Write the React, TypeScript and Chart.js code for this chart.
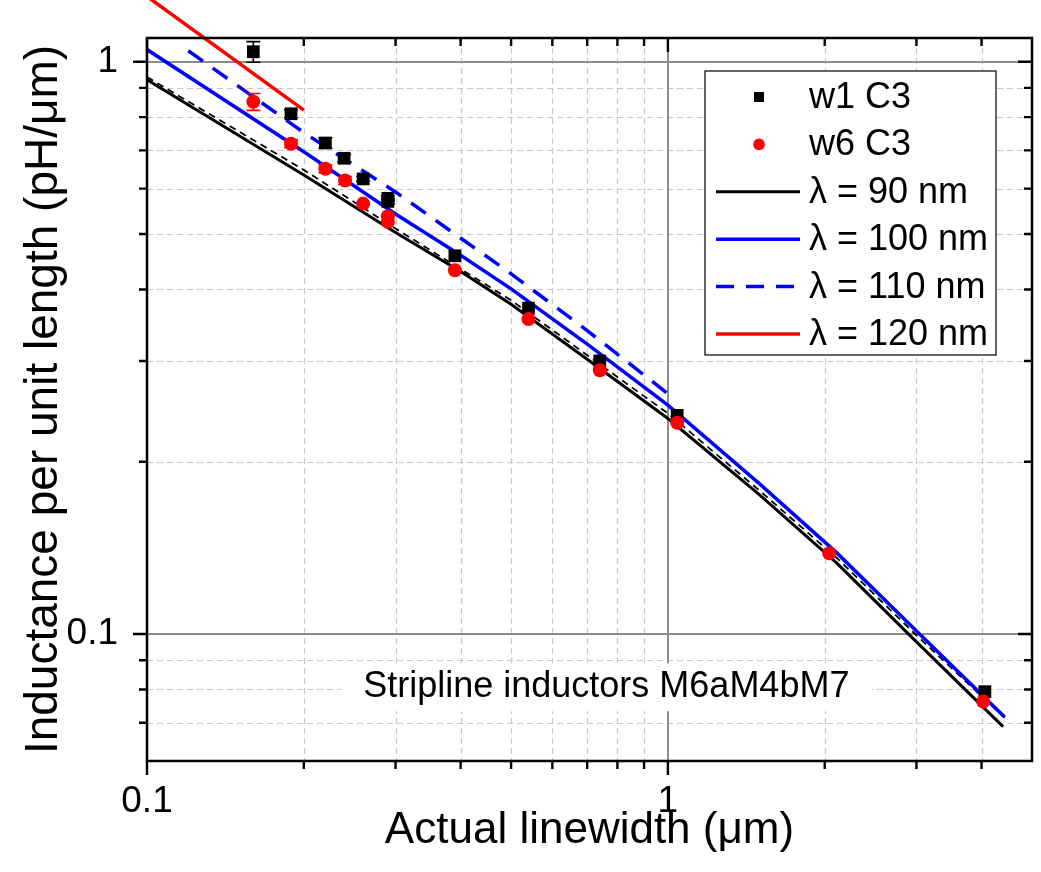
import React, { useEffect, useRef } from 'react';
import { Chart, registerables } from 'chart.js';

Chart.register(...registerables);

const FONT = '"Liberation Sans", Arial, Helvetica, sans-serif';

// ---------- data ----------
const w1X = [0.16, 0.189, 0.22, 0.239, 0.26, 0.29, 0.29, 0.39, 0.54, 0.74, 1.042, 4.06];
const w1Y = [1.041, 0.811, 0.721, 0.678, 0.624, 0.577, 0.570, 0.458, 0.371, 0.300, 0.241, 0.0793];
const w1Err = [0.043, 0.013, 0.015, 0.01, 0.006, 0.006, 0.006, 0, 0, 0, 0, 0];

const w6X = [0.16, 0.189, 0.22, 0.24, 0.26, 0.29, 0.29, 0.39, 0.54, 0.74, 1.042, 2.04, 4.03];
const w6Y = [0.851, 0.719, 0.650, 0.620, 0.565, 0.537, 0.525, 0.432, 0.355, 0.289, 0.234, 0.1384, 0.0762];
const w6Err = [0.029, 0.011, 0.01, 0.01, 0, 0, 0, 0, 0, 0, 0, 0, 0];

const l90X = [0.1, 0.2, 0.3, 0.4, 0.5, 0.7, 1.0, 1.5, 2.11, 3.0, 4.4];
const l90Y = [0.930, 0.634, 0.503, 0.430, 0.377, 0.302, 0.238, 0.175, 0.133, 0.0969, 0.0689];

const l100X = [0.1, 0.2, 0.3, 0.4, 0.5, 0.7, 1.0, 1.5, 2.11, 3.0, 4.43];
const l100Y = [1.05, 0.696, 0.542, 0.459, 0.401, 0.321, 0.2511, 0.183, 0.1386, 0.1012, 0.0716];

const l110X = [0.12, 0.2, 0.3, 0.5, 0.7, 1.0];
const l110Y = [1.045, 0.752, 0.592, 0.426, 0.339, 0.263];

const l120X = [0.1, 0.2];
const l120Y = [1.30, 0.823];

const lDashX = [0.1, 0.2, 0.3, 0.5, 0.7, 1.0, 1.5, 2.11, 3.0, 4.43];
const lDashY = [0.94, 0.647, 0.511, 0.383, 0.307, 0.243, 0.178, 0.1358, 0.0995, 0.0714];

const xMajor = [0.1, 1];
const xMinor = [0.2, 0.3, 0.4, 0.5, 0.6, 0.7, 0.8, 0.9, 2, 3, 4];
const yMajor = [0.1, 1];
const yMinor = [0.07, 0.08, 0.09, 0.2, 0.3, 0.4, 0.5, 0.6, 0.7, 0.8, 0.9];

const xTitle = 'Actual linewidth (\u03bcm)';
const yTitle = 'Inductance per unit length (pH/\u03bcm)';
const note = 'Stripline inductors M6aM4bM7';

const pts = (xs: number[], ys: number[]) => xs.map((x, i) => ({ x, y: ys[i] }));

// ---------- plugin: grid, frame, ticks, error bars, annotation, legend ----------
const decorPlugin = {
  id: 'decor',
  beforeDatasetsDraw(chart: any) {
    const { ctx, chartArea: a, scales } = chart;
    const xs = scales.x, ys = scales.y;
    ctx.save();
    ctx.beginPath();
    ctx.rect(a.left, a.top, a.right - a.left, a.bottom - a.top);
    ctx.clip();
    // minor grid
    ctx.strokeStyle = '#c8c8c8';
    ctx.lineWidth = 1.2;
    ctx.setLineDash([6, 4]);
    ctx.beginPath();
    xMinor.forEach((v) => {
      const p = Math.round(xs.getPixelForValue(v)) + 0.5;
      ctx.moveTo(p, a.top);
      ctx.lineTo(p, a.bottom);
    });
    yMinor.forEach((v) => {
      const p = Math.round(ys.getPixelForValue(v)) + 0.5;
      ctx.moveTo(a.left, p);
      ctx.lineTo(a.right, p);
    });
    ctx.stroke();
    // major grid
    ctx.setLineDash([]);
    ctx.strokeStyle = '#8c8c8c';
    ctx.lineWidth = 2;
    ctx.beginPath();
    xMajor.forEach((v) => {
      const p = Math.round(xs.getPixelForValue(v));
      ctx.moveTo(p, a.top);
      ctx.lineTo(p, a.bottom);
    });
    yMajor.forEach((v) => {
      const p = Math.round(ys.getPixelForValue(v));
      ctx.moveTo(a.left, p);
      ctx.lineTo(a.right, p);
    });
    ctx.stroke();

    // annotation with white background
    ctx.font = `36px ${FONT}`;
    const tw = ctx.measureText(note).width;
    const cx = a.left + (a.right - a.left) * 0.519;
    const cy = a.top + (a.bottom - a.top) * 0.898;
    ctx.fillStyle = '#ffffff';
    ctx.fillRect(cx - tw / 2 - 22, cy - 24, tw + 44, 48);
    ctx.fillStyle = '#000000';
    ctx.textAlign = 'center';
    ctx.textBaseline = 'middle';
    ctx.fillText(note, cx, cy);
    ctx.restore();
  },
  afterDatasetsDraw(chart: any) {
    const { ctx, chartArea: a, scales } = chart;
    const xs = scales.x, ys = scales.y;
    ctx.save();
    // error bars
    chart.data.datasets.forEach((ds: any) => {
      if (!ds.errors) return;
      ctx.strokeStyle = ds.borderColor;
      ctx.lineWidth = 1.6;
      ds.data.forEach((pt: any, i: number) => {
        const e = ds.errors[i];
        if (!e) return;
        const px = xs.getPixelForValue(pt.x);
        const pHi = ys.getPixelForValue(pt.y + e);
        const pLo = ys.getPixelForValue(pt.y - e);
        ctx.beginPath();
        ctx.moveTo(px, pHi);
        ctx.lineTo(px, pLo);
        ctx.moveTo(px - 7, pHi);
        ctx.lineTo(px + 7, pHi);
        ctx.moveTo(px - 7, pLo);
        ctx.lineTo(px + 7, pLo);
        ctx.stroke();
      });
    });
    // frame
    ctx.strokeStyle = '#000';
    ctx.lineWidth = 2.5;
    ctx.strokeRect(a.left, a.top, a.right - a.left, a.bottom - a.top);
    // ticks
    ctx.lineWidth = 2.4;
    ctx.beginPath();
    const xt = (vals: number[], len: number) =>
      vals.forEach((v) => {
        const p = xs.getPixelForValue(v);
        ctx.moveTo(p, a.bottom);
        ctx.lineTo(p, a.bottom + len);
        ctx.moveTo(p, a.top);
        ctx.lineTo(p, a.top + len);
      });
    const yt = (vals: number[], len: number) =>
      vals.forEach((v) => {
        const p = ys.getPixelForValue(v);
        ctx.moveTo(a.left, p);
        ctx.lineTo(a.left - len, p);
        ctx.moveTo(a.right, p);
        ctx.lineTo(a.right - len, p);
      });
    xt(xMajor, 14);
    xt(xMinor, 8);
    yt(yMajor, 14);
    yt(yMinor, 8);
    ctx.stroke();
    ctx.restore();
  },
  afterDraw(chart: any) {
    const { ctx, chartArea: a } = chart;
    const left = a.right - 327;
    const top = a.top + 33;
    const w = 291;
    const h = 284;
    ctx.save();
    ctx.fillStyle = '#fff';
    ctx.fillRect(left, top, w, h);
    ctx.strokeStyle = '#000';
    ctx.lineWidth = 1.2;
    ctx.strokeRect(left, top, w, h);
    ctx.font = `36px ${FONT}`;
    ctx.textBaseline = 'middle';
    ctx.textAlign = 'left';
    let row = 0;
    chart.data.datasets.forEach((ds: any) => {
      if (ds.legendHidden) return;
      const cy = top + 26 + row * 47.4;
      row++;
      if (!ds.showLine) {
        ctx.fillStyle = ds.backgroundColor;
        const mx = left + 54;
        if (ds.pointStyle === 'rect') {
          ctx.fillRect(mx - 5, cy - 5, 10, 10);
        } else {
          ctx.beginPath();
          ctx.arc(mx, cy, 5.8, 0, Math.PI * 2);
          ctx.fill();
        }
      } else {
        ctx.strokeStyle = ds.borderColor;
        ctx.lineWidth = ds.borderWidth;
        ctx.setLineDash(ds.borderDash || []);
        ctx.beginPath();
        ctx.moveTo(left + 11, cy);
        ctx.lineTo(left + 95, cy);
        ctx.stroke();
        ctx.setLineDash([]);
      }
      ctx.fillStyle = '#000';
      ctx.fillText(ds.label, left + 104, cy + 1);
    });
    ctx.restore();
  },
};

const zeroPad = (s: any) => {
  s.paddingTop = 0;
  s.paddingBottom = 0;
  s.paddingLeft = 0;
  s.paddingRight = 0;
};

export default function App() {
  const ref = useRef<HTMLCanvasElement>(null);
  useEffect(() => {
    document.body.style.margin = '0';
    const canvas = ref.current;
    if (!canvas) return;
    const chart = new Chart(canvas, {
      type: 'scatter',
      data: {
        datasets: [
          {
            label: 'w1 C3',
            data: pts(w1X, w1Y),
            pointStyle: 'rect',
            pointRadius: 9,
            backgroundColor: '#000000',
            borderColor: '#000000',
            borderWidth: 0,
            showLine: false,
            order: 1,
            errors: w1Err,
          } as any,
          {
            label: 'w6 C3',
            data: pts(w6X, w6Y),
            pointStyle: 'circle',
            pointRadius: 7,
            backgroundColor: '#ff0000',
            borderColor: '#ff0000',
            borderWidth: 0,
            showLine: false,
            order: 0,
            errors: w6Err,
          } as any,
          {
            label: '\u03bb = 90 nm',
            data: pts(l90X, l90Y),
            showLine: true,
            borderColor: '#000000',
            backgroundColor: '#000000',
            borderWidth: 3,
            pointRadius: 0,
            order: 5,
          },
          {
            label: '\u03bb = 100 nm',
            data: pts(l100X, l100Y),
            showLine: true,
            borderColor: '#0000ff',
            backgroundColor: '#0000ff',
            borderWidth: 3.5,
            pointRadius: 0,
            order: 3,
          },
          {
            label: '\u03bb = 110 nm',
            data: pts(l110X, l110Y),
            showLine: true,
            borderColor: '#0000ff',
            backgroundColor: '#0000ff',
            borderWidth: 3.5,
            borderDash: [18, 12],
            pointRadius: 0,
            order: 4,
          },
          {
            label: '\u03bb = 120 nm',
            data: pts(l120X, l120Y),
            showLine: true,
            borderColor: '#ff0000',
            backgroundColor: '#ff0000',
            borderWidth: 3.5,
            pointRadius: 0,
            clip: false,
            order: 2,
          } as any,
          {
            label: '',
            data: pts(lDashX, lDashY),
            showLine: true,
            borderColor: '#000000',
            backgroundColor: '#000000',
            borderWidth: 1.8,
            borderDash: [7, 5],
            pointRadius: 0,
            order: 6,
            legendHidden: true,
          } as any,
        ],
      },
      options: {
        animation: false,
        responsive: false,
        maintainAspectRatio: false,
        layout: { padding: { top: 38, right: 6, left: 0, bottom: 0 } },
        plugins: { legend: { display: false }, tooltip: { enabled: false } },
        scales: {
          x: {
            type: 'logarithmic',
            min: 0.1,
            max: 5,
            grid: { display: false, drawTicks: false },
            border: { display: false },
            afterBuildTicks: (s: any) => {
              s.ticks = xMajor.map((v) => ({ value: v }));
            },
            afterFit: (s: any) => {
              s.height = 111;
              zeroPad(s);
            },
            ticks: {
              autoSkip: false,
              maxRotation: 0,
              padding: 19,
              color: '#000',
              font: { family: FONT, size: 37 },
              callback: (v: any) => String(v),
            },
            title: {
              display: true,
              text: xTitle,
              color: '#000',
              font: { family: FONT, size: 44 },
              padding: { top: 0, bottom: 15 },
            },
          },
          y: {
            type: 'logarithmic',
            min: 0.06,
            max: 1.1,
            grid: { display: false, drawTicks: false },
            border: { display: false },
            afterBuildTicks: (s: any) => {
              s.ticks = yMajor.map((v) => ({ value: v }));
            },
            afterFit: (s: any) => {
              s.width = 147;
              zeroPad(s);
            },
            ticks: {
              autoSkip: false,
              padding: 29,
              color: '#000',
              font: { family: FONT, size: 37 },
              callback: (v: any) => String(v),
            },
            title: {
              display: true,
              text: yTitle,
              color: '#000',
              font: { family: FONT, size: 46 },
              padding: { top: 17, bottom: 0 },
            },
          },
        },
      } as any,
      plugins: [decorPlugin],
    });
    return () => chart.destroy();
  }, []);
  return (
    <canvas
      ref={ref}
      width={1041}
      height={872}
      style={{ display: 'block', width: '1041px', height: '872px' }}
    />
  );
}
